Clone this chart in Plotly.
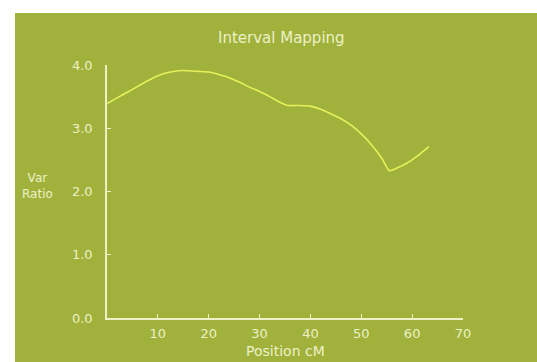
import plotly.graph_objects as go

# Interval mapping scan: variance ratio along the linkage group
position_cm = [0, 2, 4, 6, 8, 10, 12, 14, 16, 18, 20, 22, 24, 26, 28, 30, 32, 34,
               35.5, 38, 40, 42, 44, 46, 48, 50, 52, 54, 55.5, 57, 59, 61, 63.3]
var_ratio = [3.39, 3.48, 3.57, 3.66, 3.75, 3.83, 3.88, 3.91, 3.91, 3.90, 3.89, 3.85,
             3.80, 3.73, 3.65, 3.58, 3.50, 3.41, 3.36, 3.36, 3.35, 3.30, 3.23, 3.15,
             3.05, 2.91, 2.74, 2.53, 2.33, 2.37, 2.45, 2.56, 2.71]

x_ticks = [10, 20, 30, 40, 50, 60, 70]
y_ticks = [0, 1, 2, 3, 4]
y_tick_text = ["0.0", "1.0", "2.0", "3.0", "4.0"]

bg = "#a0b23c"
pale = "#eef0c8"
curve = "#e6f05a"
font_family = "DejaVu Sans"

fig = go.Figure()
fig.add_trace(go.Scatter(
    x=position_cm, y=var_ratio, mode="lines",
    line=dict(color=curve, width=1.6, shape="spline", smoothing=0.5),
    hoverinfo="skip", showlegend=False,
))

W, H = 537, 362
ml, mr, mt, mb = 107, 74, 65, 44
pw, ph = W - ml - mr, H - mt - mb

fig.update_layout(
    width=W, height=H,
    margin=dict(l=ml, r=mr, t=mt, b=mb, pad=0),
    paper_bgcolor="white",
    plot_bgcolor="rgba(0,0,0,0)",
    font=dict(family=font_family, size=12, color=pale),
    shapes=[dict(
        type="rect", xref="paper", yref="paper", layer="below",
        x0=(15 - ml) / pw, x1=(W - ml) / pw,
        y0=-(H - mt - ph) / ph, y1=(H - 13 - mb) / ph,
        fillcolor=bg, line=dict(width=0),
    )],
    annotations=[
        dict(text="Interval Mapping", xref="paper", yref="paper",
             x=(281 - ml) / pw, y=(H - 38 - mb) / ph, showarrow=False,
             xanchor="center", yanchor="middle",
             font=dict(size=15, color=pale, family=font_family)),
        dict(text="Var<br>Ratio", xref="paper", yref="paper",
             x=(37 - ml) / pw, y=(H - 186 - mb) / ph, showarrow=False,
             xanchor="center", yanchor="middle", align="center",
             font=dict(size=12, color=pale, family=font_family)),
        dict(text="Position cM", xref="paper", yref="paper",
             x=(285 - ml) / pw, y=(H - 351 - mb) / ph, showarrow=False,
             xanchor="center", yanchor="middle",
             font=dict(size=14, color=pale, family=font_family)),
    ],
)

fig.update_xaxes(
    range=[0, 70], tickvals=x_ticks, ticktext=[str(v) for v in x_ticks],
    showline=True, linecolor=pale, linewidth=1.5, mirror=False,
    ticks="inside", ticklen=4, tickcolor=pale, tickwidth=1,
    showgrid=False, zeroline=False, ticklabelstandoff=3,
    tickfont=dict(size=13, color=pale, family=font_family),
)
fig.update_yaxes(
    range=[0, 4], tickvals=y_ticks, ticktext=y_tick_text,
    showline=True, linecolor=pale, linewidth=1.5,
    ticks="inside", ticklen=4, tickcolor=pale, tickwidth=1,
    showgrid=False, zeroline=False, ticklabelstandoff=10,
    tickfont=dict(size=13, color=pale, family=font_family),
)

fig.write_html("out.html")
